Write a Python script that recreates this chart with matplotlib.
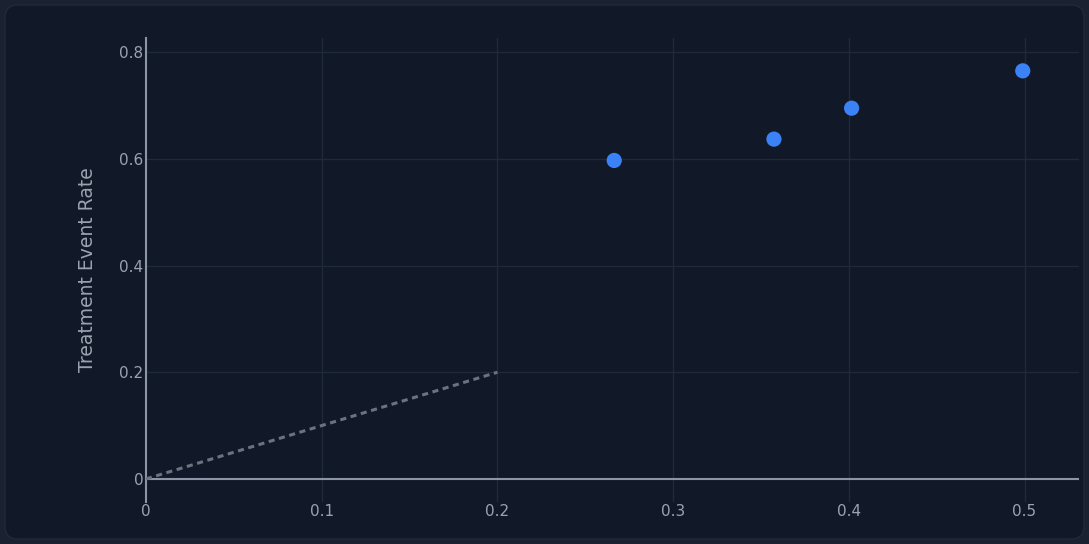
import matplotlib.pyplot as plt
from matplotlib.patches import FancyBboxPatch

control_rate = [0.2665, 0.3574, 0.4016, 0.499]
treatment_rate = [0.597, 0.637, 0.695, 0.765]
ref_x = [0, 0.2]
ref_y = [0, 0.2]
x_ticks = [0, 0.1, 0.2, 0.3, 0.4, 0.5]
y_ticks = [0, 0.2, 0.4, 0.6, 0.8]

plt.rcParams['font.family'] = ['DejaVu Sans']

fig = plt.figure(figsize=(10.89, 5.44), dpi=100)
fig.patch.set_facecolor('#1a2232')

# rounded card behind the chart
card = FancyBboxPatch((5 / 1089, 5 / 544), 1079 / 1089, 534 / 544,
                      boxstyle='round,pad=0,rounding_size=0.012',
                      transform=fig.transFigure, facecolor='#111827',
                      edgecolor='#1f2a3a', linewidth=1, mutation_aspect=2.0,
                      zorder=-10)
fig.add_artist(card)

ax = fig.add_axes([0.134, 0.0778, 0.8568, 0.8518])
ax.set_facecolor('#111827')

ax.plot(ref_x, ref_y, color='#6b7280', linewidth=2.2, linestyle=(0, (2, 1.5)),
        zorder=3)
ax.axhline(0, color='#8b95a7', linewidth=1.5, zorder=2)
ax.scatter(control_rate, treatment_rate, s=120, color='#3b82f6',
           edgecolors='none', zorder=4)

ax.set_xlim(0, 0.531)
ax.set_ylim(-0.0426, 0.826)
ax.set_xticks(x_ticks)
ax.set_xticklabels(['0', '0.1', '0.2', '0.3', '0.4', '0.5'])
ax.set_yticks(y_ticks)
ax.set_yticklabels(['0', '0.2', '0.4', '0.6', '0.8'])
ax.grid(True, color='#1f2a3a', linewidth=1)
ax.set_axisbelow(True)

for side in ['top', 'right', 'bottom']:
    ax.spines[side].set_visible(False)
ax.spines['left'].set_color('#8b95a7')
ax.spines['left'].set_linewidth(1.5)

ax.tick_params(axis='both', length=0, colors='#9ca3af', labelsize=11)
ax.tick_params(axis='x', pad=2)
ax.tick_params(axis='y', pad=2)

ax.set_ylabel('Treatment Event Rate', color='#9ca3af', fontsize=13.5, labelpad=16)

fig.savefig('out.png', dpi=100, facecolor=fig.get_facecolor())
